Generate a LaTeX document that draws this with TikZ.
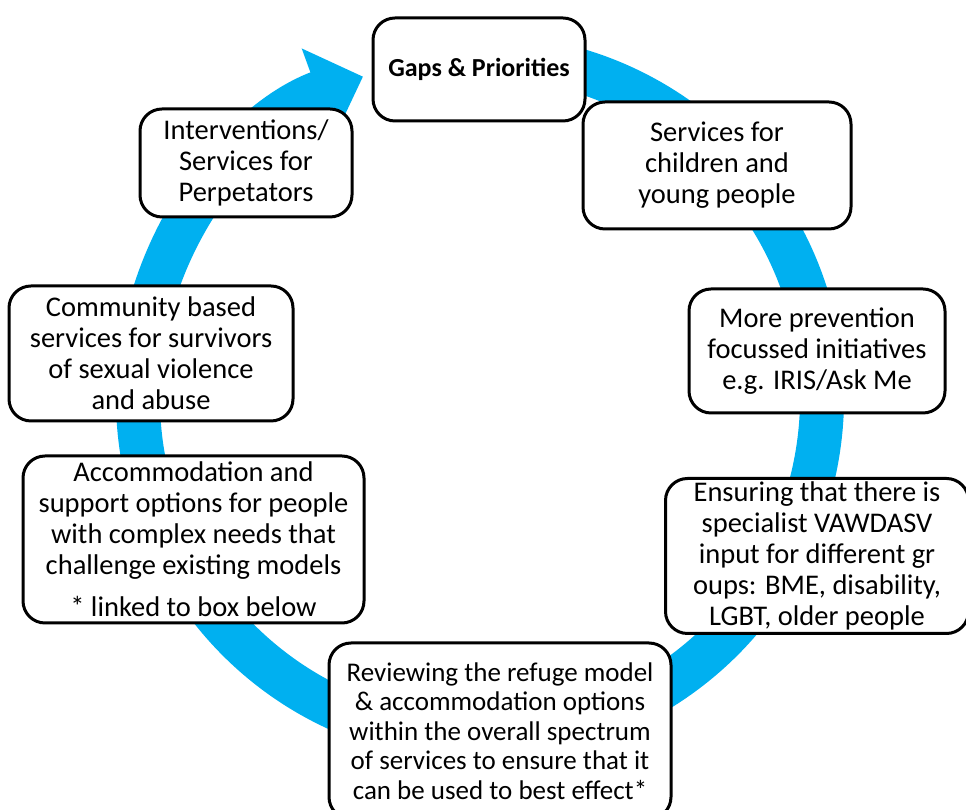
\documentclass[tikz,border=0pt]{standalone}
\usepackage{fontspec}
\setmainfont{Carlito}
\usetikzlibrary{arrows.meta}
\definecolor{ringblue}{RGB}{0,176,240}

\begin{document}
\begin{tikzpicture}[x=1pt,y=1pt,
    box/.style={draw, line width=3pt, rounded corners=22pt, fill=white,
      align=center, inner sep=0pt, font={\fontsize{28.5}{31}\selectfont}}]
    \useasboundingbox (0,0) rectangle (966,810);
    \coordinate (c) at (480,412);
    \draw[ringblue, line width=44pt, -{Triangle[length=48pt,width=92pt]}]
      (c) ++(80:342) arc[start angle=80, end angle=-250, radius=342];
    \node[box, minimum width=212pt, minimum height=103pt,
      font={\bfseries\fontsize{26}{31}\selectfont}] (gaps) at (479,740.5) {Gaps \& Priorities};
    \node[box, minimum width=268pt, minimum height=127pt] (kids) at (717,644.5)
      {Services for\\children and\\young people};
    \node[box, minimum width=256pt, minimum height=124pt] (prev) at (817,459)
      {More prevention\\focussed initiatives\\e.g. IRIS/Ask Me};
    \node[box, minimum width=303pt, minimum height=155pt] (spec) at (817,254)
      {Ensuring that there is\\specialist VAWDASV\\input for different gr\\oups: BME, disability,\\LGBT, older people};
    \node[box, minimum width=342pt, minimum height=176pt,
      font={\fontsize{27}{29.5}\selectfont}] (refuge) at (500,79)
      {Reviewing the refuge model\\\& accommodation options\\within the overall spectrum\\of services to ensure that it\\can be used to best effect*};
    \node[box, minimum width=341pt, minimum height=167pt] (accom) at (193.5,270.5)
      {Accommodation and\\support options for people\\with complex needs that\\challenge existing models\\[11pt]* linked to box below};
    \node[box, minimum width=284pt, minimum height=135pt] (comm) at (151,456.5)
      {Community based\\services for survivors\\of sexual violence\\and abuse};
    \node[box, minimum width=212pt, minimum height=108pt] (perp) at (246,647)
      {Interventions/\\Services for\\Perpetators};
\end{tikzpicture}
\end{document}
